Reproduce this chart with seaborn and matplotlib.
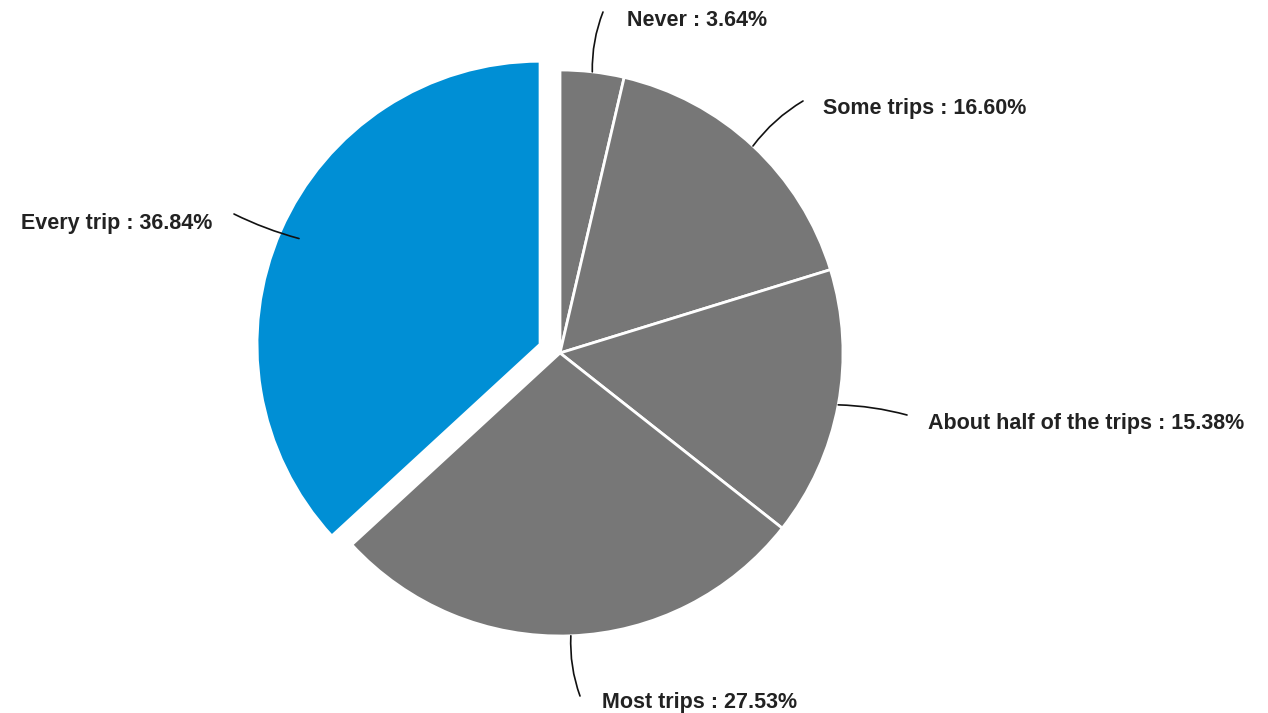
import numpy as np
import matplotlib
matplotlib.use('Agg')
import matplotlib.pyplot as plt
import seaborn as sns

labels = ['Never', 'Some trips', 'About half of the trips', 'Most trips', 'Every trip']
shares = [3.64, 16.60, 15.38, 27.53, 36.84]
colors = ['#777777', '#777777', '#777777', '#777777', '#008fd5']
explode_frac = [0, 0, 0, 0, 0.077]

sns.set_theme(style='white')
plt.rcParams['font.family'] = ['Liberation Sans', 'DejaVu Sans']

W, H = 1268, 713
fig = plt.figure(figsize=(W / 100, H / 100), dpi=100)
ax = fig.add_axes([0, 0, 1, 1])

cx, cy, R = 560, H - 353, 283
# matplotlib's explode is in data units, so scale it by the radius
wedges, _ = ax.pie(shares, colors=colors, explode=[e * R for e in explode_frac],
                   startangle=90, counterclock=False,
                   center=(cx, cy), radius=R,
                   wedgeprops=dict(edgecolor='white', linewidth=2))
ax.set_xlim(0, W)
ax.set_ylim(0, H)
ax.set_aspect('equal')
ax.axis('off')

# label placement (image pixel coords): text x, text y, alignment, line end, rad, anchor depth
layout = [
    (627, 18, 'left', (603, 12), -0.1, 1.0),
    (823, 106, 'left', (803, 101), -0.1, 1.0),
    (928, 421, 'left', (907, 415), -0.06, 1.0),
    (602, 700, 'left', (580, 696), 0.1, 1.0),
    (212, 221, 'right', (234, 214), -0.05, 0.93),
]

for w, lab, val, (tx, ty, ha, end, rad, depth) in zip(wedges, labels, shares, layout):
    mid = np.deg2rad((w.theta1 + w.theta2) / 2)
    ox, oy = w.center
    anchor = (ox + w.r * depth * np.cos(mid), oy + w.r * depth * np.sin(mid))
    ax.annotate('', xy=(end[0], H - end[1]), xytext=anchor,
                arrowprops=dict(arrowstyle='-', color='#111111', lw=1.2,
                                connectionstyle=f'arc3,rad={rad}',
                                shrinkA=0, shrinkB=0))
    ax.text(tx, H - ty, f'{lab} : {val:.2f}%', ha=ha, va='center_baseline',
            fontsize=15.5, fontweight='bold', color='#222222')

fig.savefig('out.png', dpi=100)
